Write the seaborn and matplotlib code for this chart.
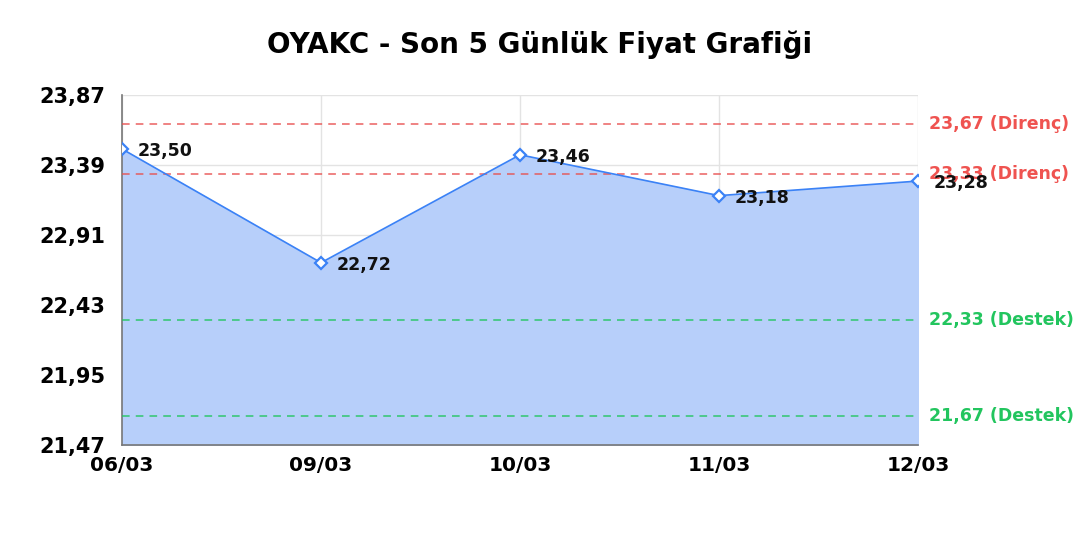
import pandas as pd
import numpy as np
import seaborn as sns
import matplotlib.pyplot as plt

# price data for the last 5 days
dates = ["06/03", "09/03", "10/03", "11/03", "12/03"]
prices = [23.50, 22.72, 23.46, 23.18, 23.28]
resistance = [23.67, 23.33]
support = [22.33, 21.67]
yticks = [21.47, 21.95, 22.43, 22.91, 23.39, 23.87]

df = pd.DataFrame({"pos": np.arange(len(dates)), "price": prices})

sns.set_style("whitegrid")
plt.rcParams['font.family'] = ['DejaVu Sans']
plt.rcParams['text.color'] = 'black'

fig = plt.figure(figsize=(10.8, 5.4), dpi=100)
ax = fig.add_axes([122/1080, 1 - 445/540, (918-122)/1080, 350/540])

line_col = "#3b82f6"
ax.fill_between(df["pos"], df["price"], yticks[0], color="#b7cffa", zorder=1)
sns.lineplot(data=df, x="pos", y="price", ax=ax, color=line_col, linewidth=1.2,
             marker="D", markersize=6, markerfacecolor="white",
             markeredgecolor=line_col, markeredgewidth=1.6, zorder=4)

for x, y in zip(df["pos"], df["price"]):
    ax.annotate(f"{y:.2f}".replace(".", ","), (x, y), xytext=(11, -1.5),
                textcoords="offset points", fontsize=12.5, fontweight="bold",
                va="center", ha="left", color="#111111", zorder=5)

for r in resistance:
    ax.axhline(r, color="#e8504f", linestyle=(0, (5, 4)), linewidth=1.1, alpha=0.9, zorder=3)
    ax.annotate(f"{r:.2f} (Direnç)".replace(".", ","), (1, r), xycoords=("axes fraction", "data"),
                xytext=(8, 0), textcoords="offset points", va="center", ha="left",
                fontsize=12.5, fontweight="bold", color="#ef5350")
for s in support:
    ax.axhline(s, color="#22c55e", linestyle=(0, (5, 4)), linewidth=1.1, alpha=0.9, zorder=3)
    ax.annotate(f"{s:.2f} (Destek)".replace(".", ","), (1, s), xycoords=("axes fraction", "data"),
                xytext=(8, 0), textcoords="offset points", va="center", ha="left",
                fontsize=12.5, fontweight="bold", color="#22c55e")

ax.set_xlim(0, len(dates) - 1)
ax.set_ylim(yticks[0], yticks[-1])
ax.set_xticks(df["pos"])
ax.set_xticklabels(dates, fontsize=14.5, fontweight="bold", color="black")
ax.set_yticks(yticks)
ax.set_yticklabels([f"{t:.2f}".replace(".", ",") for t in yticks], fontsize=15,
                   fontweight="bold", color="black")
ax.set_xlabel("")
ax.set_ylabel("")
ax.grid(True, color="#e3e3e3", linewidth=1)
ax.set_axisbelow(True)
for side in ["top", "right"]:
    ax.spines[side].set_visible(False)
for side in ["left", "bottom"]:
    ax.spines[side].set_visible(True)
    ax.spines[side].set_color("#777777")
    ax.spines[side].set_linewidth(1.2)
ax.tick_params(axis="y", length=0, pad=12)
ax.tick_params(axis="x", length=0, pad=8)

fig.suptitle("OYAKC - Son 5 Günlük Fiyat Grafiği", fontsize=20, fontweight="bold",
             y=1 - 45/540, va="center", color="black")

fig.savefig("out.png", dpi=100)
